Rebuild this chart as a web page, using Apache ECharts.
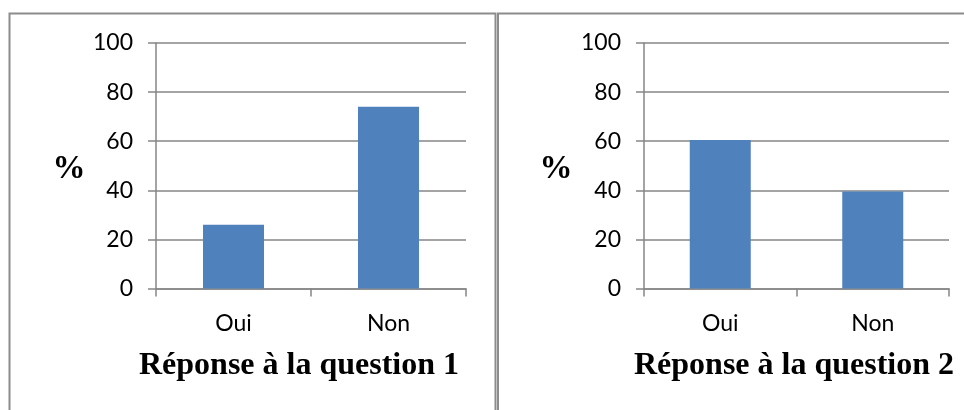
<!DOCTYPE html>
<html>
<head>
<meta charset="utf-8">
<script src="https://cdn.jsdelivr.net/npm/echarts@6/dist/echarts.min.js"></script>
<style>html,body{margin:0;padding:0;background:#fff}#c{width:964px;height:410px}</style>
</head>
<body>
<div id="c"></div>
<script>
const categories = ['Oui', 'Non'];
const q1Values = [26, 74];
const q2Values = [60.5, 39.5];
const yTicks = [0, 20, 40, 60, 80, 100];
const titles = ['Réponse à la question 1', 'Réponse à la question 2'];
const yName = '%';

const chart = echarts.init(document.getElementById('c'));
const gray = '#868686';
const labelFont = {fontFamily: 'Lato', fontSize: 23, color: '#000'};

function xAx(gi) {
  return {
    type: 'category', gridIndex: gi, data: categories,
    axisLine: {lineStyle: {color: gray, width: 1.5}},
    axisTick: {show: true, length: 8, lineStyle: {color: gray, width: 1.5}},
    axisLabel: Object.assign({margin: 24}, labelFont)
  };
}
function yAx(gi) {
  return {
    type: 'value', gridIndex: gi, min: yTicks[0], max: yTicks[yTicks.length - 1], interval: 20,
    axisLine: {show: true, lineStyle: {color: gray, width: 1.5}},
    axisTick: {show: true, length: 8, lineStyle: {color: gray, width: 1.5}},
    splitLine: {lineStyle: {color: gray, width: 1.5}},
    axisLabel: Object.assign({margin: 23}, labelFont)
  };
}

const titleStyle = {fontFamily: 'Liberation Serif', fontWeight: 'bold', fontSize: 32, color: '#000'};
const pctStyle = {fontFamily: 'Liberation Serif', fontWeight: 'bold', fontSize: 33, color: '#000'};

chart.setOption({
  animation: false,
  grid: [
    {left: 156, right: 498, top: 43, bottom: 121.5},
    {left: 644, right: 15, top: 43, bottom: 121.5}
  ],
  xAxis: [xAx(0), xAx(1)],
  yAxis: [yAx(0), yAx(1)],
  title: [
    {text: titles[0], left: 294, top: 345, textAlign: 'center', textStyle: titleStyle},
    {text: titles[1], left: 789, top: 345, textAlign: 'center', textStyle: titleStyle},
    {text: yName, left: 64, top: 148, textAlign: 'center', textStyle: pctStyle},
    {text: yName, left: 551, top: 148, textAlign: 'center', textStyle: pctStyle}
  ],
  graphic: [
    {type: 'rect', shape: {x: 9.5, y: 13.5, width: 486, height: 420}, style: {fill: 'none', stroke: '#8c8c8c', lineWidth: 2}},
    {type: 'rect', shape: {x: 498, y: 13.5, width: 500, height: 420}, style: {fill: 'none', stroke: '#8c8c8c', lineWidth: 2}}
  ],
  series: [
    {type: 'bar', xAxisIndex: 0, yAxisIndex: 0, data: q1Values, barWidth: 61, itemStyle: {color: '#4f81bd'}},
    {type: 'bar', xAxisIndex: 1, yAxisIndex: 1, data: q2Values, barWidth: 61, itemStyle: {color: '#4f81bd'}}
  ]
});
</script>
</body>
</html>
